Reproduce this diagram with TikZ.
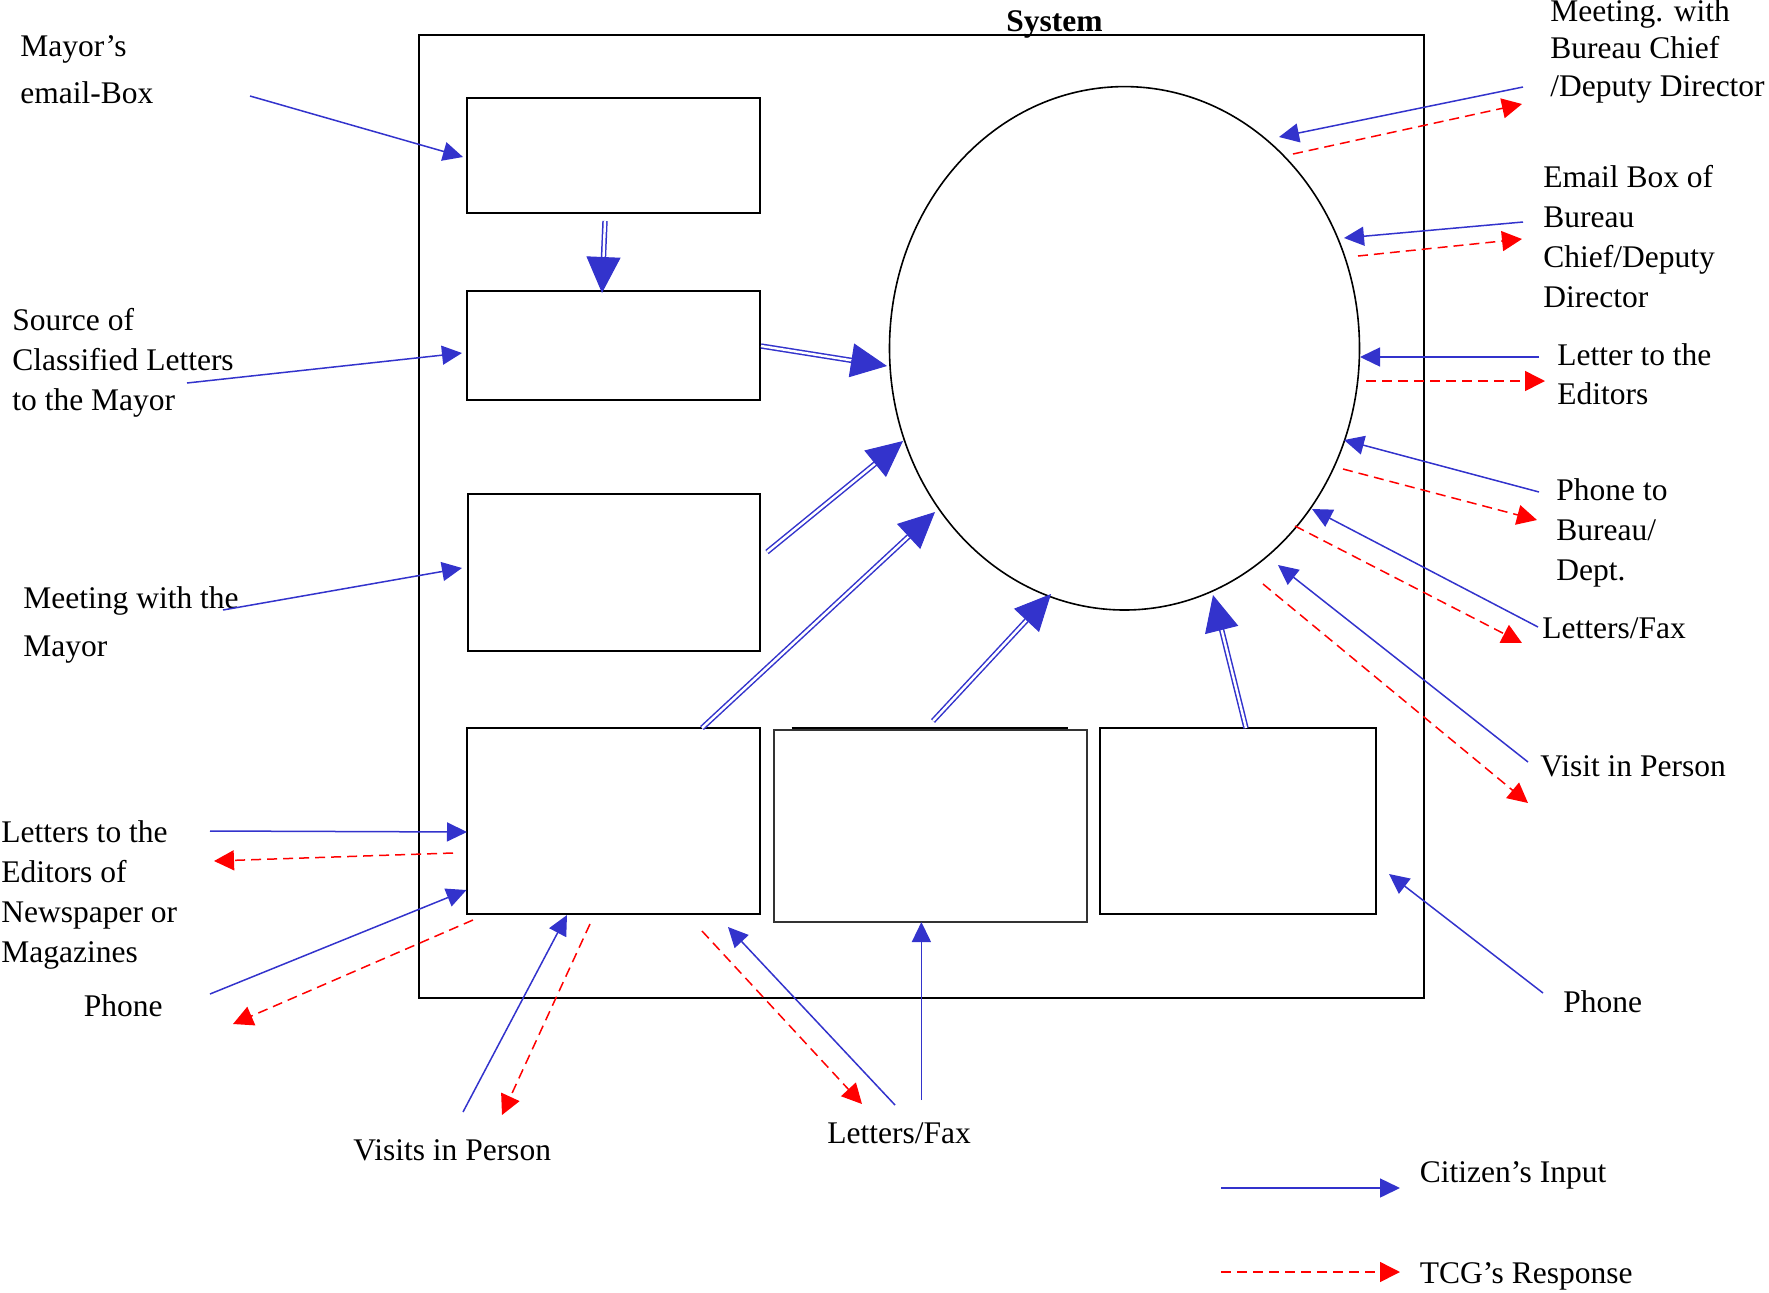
\documentclass[tikz,border=0pt]{standalone}
\usepackage{fontspec}
\setmainfont{Liberation Serif}
\usetikzlibrary{arrows.meta,shapes.geometric,calc}
\definecolor{cblue}{RGB}{51,51,204}
\definecolor{cred}{RGB}{255,0,0}
\newcommand\lblfont{\fontsize{15.75pt}{20pt}\selectfont}
\begin{document}
\begin{tikzpicture}[x=0.5pt,y=-0.5pt,font=\lblfont,
  lbl/.style={anchor=base west,inner sep=0pt,align=left},
  box/.style={draw=black,line width=1pt,inner sep=0pt,outer sep=0pt,anchor=north west},
  inp/.style={draw=cblue,line width=0.75pt,-{Triangle[length=10pt,width=9.5pt]}},
  resp/.style={draw=cred,line width=0.75pt,dash pattern=on 5pt off 3pt,-{Triangle[length=10pt,width=10pt]}},
  dbl/.style={draw=cblue,double=white,line width=0.75pt,double distance=1.2pt,shorten >=16pt},
  bighd/.style={draw=cblue,line width=0.5pt,-{Triangle[length=18pt,width=17pt]}}]
\useasboundingbox (0,0) rectangle (1769,1292);

% system frame and title
\node[box,minimum width=502.5pt,minimum height=481.5pt] (sys) at (419,35) {};
\node[lbl,font=\lblfont\bfseries] (systitle) at (1006,31.7) {System};

% boxes
\node[box,minimum width=146.5pt,minimum height=57.5pt] (b1) at (467,98) {};
\node[box,minimum width=146.5pt,minimum height=54.5pt] (b2) at (467,291) {};
\node[box,minimum width=146pt,minimum height=78.5pt] (b3) at (468,494) {};
\node[box,minimum width=146.5pt,minimum height=93pt] (b4) at (467,728) {};
\node[box,draw=black!80,minimum width=156.5pt,minimum height=96pt] (b5) at (774,730) {};
\node[box,minimum width=138pt,minimum height=93pt] (b6) at (1100,728) {};
\coordinate (b5l) at (791.7,727.8);
\coordinate (b5r) at (1068.3,727.8);
\draw[line width=1.1pt] (b5l) -- (b5r);

% core ellipse
\node[ellipse,draw=black,line width=0.8pt,minimum width=235pt,minimum height=261.7pt,inner sep=0pt] (core) at (1124.5,348.3) {};

% labels (anchored at the baseline of their last line)
\node[lbl,font=\fontsize{15.75pt}{23.5pt}\selectfont] (lmail) at (20,103) {Mayor’s\\email-Box};
\node[lbl] (lsrc) at (12,410) {Source of\\Classified Letters\\to the Mayor};
\node[lbl,font=\fontsize{15.75pt}{24pt}\selectfont] (lmeet) at (23,656) {Meeting with the\\Mayor};
\node[lbl] (ledit) at (1,962) {Letters to the\\Editors of\\Newspaper or\\Magazines};
\node[lbl] (lphone) at (83.5,1016) {Phone};
\node[lbl] (lvisit) at (353,1160) {Visits in Person};
\node[lbl] (lfax) at (827,1143) {Letters/Fax};
\node[lbl,font=\fontsize{15.75pt}{18.75pt}\selectfont] (rmeet) at (1550,96.4) {Meeting. with\\Bureau Chief\\/Deputy Director};
\node[lbl] (rmail) at (1543,307.5) {Email Box of\\Bureau\\Chief/Deputy\\Director};
\node[lbl,font=\fontsize{15.75pt}{19.5pt}\selectfont] (redit) at (1557,404) {Letter to the\\Editors};
\node[lbl] (rphone) at (1556,580) {Phone to\\Bureau/\\Dept.};
\node[lbl] (rfax) at (1542,638) {Letters/Fax};
\node[lbl] (rvisit) at (1540,776) {Visit in Person};
\node[lbl] (rphone2) at (1563,1012) {Phone};
\node[lbl] (legin) at (1419.5,1182) {Citizen’s Input};
\node[lbl] (legre) at (1419.5,1283) {TCG’s Response};

% coordinates
\coordinate (a1s) at (250,96);   \coordinate (a1t) at (463,157);
\coordinate (a2s) at (187,383);  \coordinate (a2t) at (462,353);
\coordinate (a3s) at (223,610);  \coordinate (a3t) at (462,568);
\coordinate (a4s) at (210,831);  \coordinate (a4t) at (467,832);
\coordinate (a4rs) at (453,853); \coordinate (a4rt) at (214,861);
\coordinate (a5s) at (210,994);  \coordinate (a5t) at (466.5,890);
\coordinate (a5rs) at (473,920); \coordinate (a5rt) at (233,1024);
\coordinate (a6s) at (463,1112); \coordinate (a6t) at (567,915);
\coordinate (a6rs) at (590,924); \coordinate (a6rt) at (502,1115);
\coordinate (a7rs) at (702,931); \coordinate (a7rt) at (862,1104);
\coordinate (a7s) at (895,1105); \coordinate (a7t) at (728,927);
\coordinate (a8s) at (921.4,1100); \coordinate (a8t) at (921.4,922);

\coordinate (c1s) at (1523,87);  \coordinate (c1t) at (1279,137);
\coordinate (c1rs) at (1293,154); \coordinate (c1rt) at (1522,104);
\coordinate (c2s) at (1523,222); \coordinate (c2t) at (1344,238);
\coordinate (c2rs) at (1358,256); \coordinate (c2rt) at (1522,239);
\coordinate (c3s) at (1539,357); \coordinate (c3t) at (1360,357);
\coordinate (c3rs) at (1366,381); \coordinate (c3rt) at (1545,381);
\coordinate (c4s) at (1539,492); \coordinate (c4t) at (1344,440);
\coordinate (c4rs) at (1343,469); \coordinate (c4rt) at (1537,520);
\coordinate (c5s) at (1538,627); \coordinate (c5t) at (1312,509);
\coordinate (c5rs) at (1295,526); \coordinate (c5rt) at (1522,643);
\coordinate (c6s) at (1528,762); \coordinate (c6t) at (1278,565);
\coordinate (c6rs) at (1263,584); \coordinate (c6rt) at (1528,803);
\coordinate (c7s) at (1543,993); \coordinate (c7t) at (1389,874);

\coordinate (d1s) at (605,221);  \coordinate (d1t) at (602,293);
\coordinate (d2s) at (761,346);  \coordinate (d2t) at (887,366);
\coordinate (d3s) at (767,552);  \coordinate (d3t) at (903,441);
\coordinate (d4s) at (702,728);  \coordinate (d4t) at (935,512);
\coordinate (d5s) at (933,721);  \coordinate (d5t) at (1051,594);
\coordinate (d6s) at (1246,728); \coordinate (d6t) at (1213,595);

\coordinate (g1s) at (1221,1188); \coordinate (g1t) at (1400,1188);
\coordinate (g2s) at (1221,1272); \coordinate (g2t) at (1400,1272);

% citizen inputs
\foreach \p in {a1,a2,a3,a4,a5,a6,a7,a8,c1,c2,c3,c4,c5,c6,c7,g1}
  \draw[inp] (\p s) -- (\p t);
% responses
\foreach \p in {a4r,a5r,a6r,a7r,c1r,c2r,c3r,c4r,c5r,c6r}
  \draw[resp] (\p s) -- (\p t);
\draw[resp] (g2s) -- (g2t);

% internal flows
\foreach \p in {d1,d2,d3,d4,d5,d6}{
  \draw[dbl] (\p s) -- (\p t);
  \draw[bighd] ($(\p t)!18pt!(\p s)$) -- (\p t);
}
\end{tikzpicture}
\end{document}
